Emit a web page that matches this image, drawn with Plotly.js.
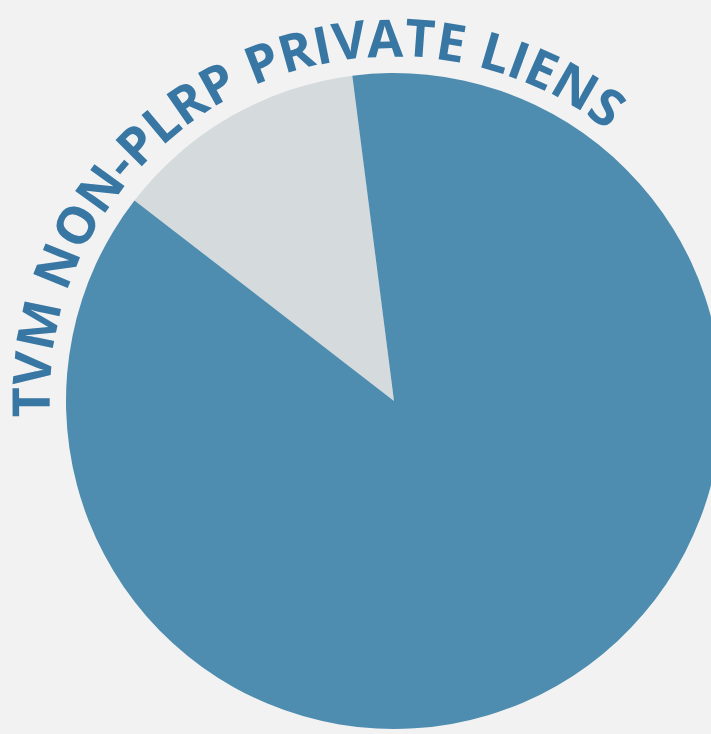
<!DOCTYPE html>
<html>
<head>
<meta charset="utf-8">
<script src="https://cdn.plot.ly/plotly-3.0.1.min.js"></script>
<style>
html, body { margin: 0; padding: 0; overflow: hidden; background: #f2f2f2; }
#chart { width: 788px; height: 734px; }
</style>
</head>
<body>
<div id="chart"></div>
<script>
// ---- data ----
var sliceLabels = ['Other', 'TVM non-PLRP private liens'];
var sliceValues = [12.5, 87.5];
var sliceColors = ['#d5dadd', '#4e8daf'];
var titleText = 'TVM NON-PLRP PRIVATE LIENS';

// ---- layout constants ----
var W = 788, H = 734;
var CX = 394, CY = 401, R = 328;
var fontFamily = 'Open Sans';
var fontSize = 52;
var fontWeight = 700;
var titleColor = '#3877a3';
var startDeg = -90.2, endDeg = 35.9;   // centers of first and last letter, clockwise from 12 o'clock
var baseR = 346, midR = 365;

// measure characters to lay the title along an arc
var cv = document.createElement('canvas').getContext('2d');
cv.font = fontWeight + ' ' + fontSize + 'px "' + fontFamily + '"';
var chars = titleText.split('');
var widths = chars.map(function (c) { return cv.measureText(c).width; });
var centers = [], acc = 0;
for (var i = 0; i < chars.length; i++) { centers.push(acc + widths[i] / 2); acc += widths[i]; }
var n = chars.length;
var naturalSpan = centers[n - 1] - centers[0];
var targetSpan = (endDeg - startDeg) * Math.PI / 180 * baseR;
var extra = (targetSpan - naturalSpan) / (n - 1);

var annotations = [];
for (var j = 0; j < n; j++) {
  if (chars[j] === ' ') continue;
  var s = centers[j] - centers[0] + extra * j;
  var ang = startDeg + (s / baseR) * 180 / Math.PI;
  var a = ang * Math.PI / 180;
  var px = CX + midR * Math.sin(a);
  var py = CY - midR * Math.cos(a);
  annotations.push({
    text: chars[j], xref: 'paper', yref: 'paper',
    x: px / W, y: 1 - py / H, xanchor: 'center', yanchor: 'middle',
    showarrow: false, textangle: ang,
    font: { family: fontFamily, size: fontSize, color: titleColor, weight: fontWeight }
  });
}

var trace = {
  type: 'pie',
  labels: sliceLabels,
  values: sliceValues,
  sort: false,
  direction: 'clockwise',
  rotation: -52.3,
  marker: { colors: sliceColors, line: { width: 0 } },
  textinfo: 'none',
  hoverinfo: 'label+percent',
  showlegend: false,
  domain: { x: [(CX - R) / W, (CX + R) / W], y: [(H - (CY + R)) / H, (H - (CY - R)) / H] }
};

var layout = {
  width: W, height: H,
  margin: { l: 0, r: 0, t: 0, b: 0, pad: 0 },
  paper_bgcolor: '#f2f2f2',
  plot_bgcolor: '#f2f2f2',
  showlegend: false,
  annotations: annotations
};

Plotly.newPlot('chart', [trace], layout, { staticPlot: true, displayModeBar: false });
</script>
</body>
</html>
